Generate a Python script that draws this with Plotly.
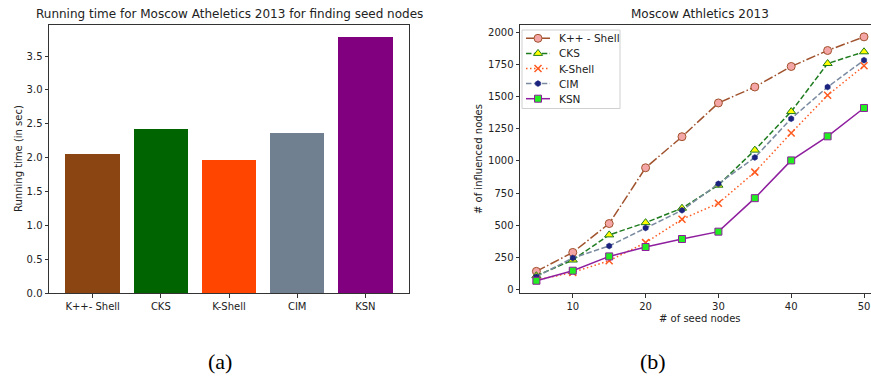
import plotly.graph_objects as go

# Running time per method (seconds)
methods = ["K++- Shell", "CKS", "K-Shell", "CIM", "KSN"]
run_times = [2.05, 2.42, 1.97, 2.37, 3.78]
bar_colors = ["#8B4513", "#006400", "#FF4500", "#708090", "#800080"]

# Influence spread vs. number of seed nodes
seeds = [5, 10, 15, 20, 25, 30, 35, 40, 45, 50]
kpp_shell = [143, 290, 514, 947, 1188, 1450, 1574, 1733, 1857, 1963]
cks = [109, 231, 426, 521, 633, 812, 1084, 1383, 1756, 1847]
k_shell = [75, 135, 226, 366, 547, 672, 913, 1217, 1510, 1738]
cim = [101, 247, 340, 480, 617, 822, 1027, 1328, 1574, 1782]
ksn = [70, 148, 259, 332, 394, 451, 711, 1004, 1191, 1411]

W, H = 871, 381
FONT = "DejaVu Sans"
TXT = "#222222"

fig = go.Figure()

fig.add_trace(go.Bar(
    x=list(range(len(methods))), y=run_times, marker_color=bar_colors,
    marker_line_width=0, width=0.8, showlegend=False,
    xaxis="x", yaxis="y",
))

series = [
    ("K++ - Shell", kpp_shell, dict(color="#A0522D", width=1.5, dash="9.6px,2.4px,1.5px,2.4px"),
     dict(symbol="circle", size=8, color="#F4A6A6", line=dict(color="#A0522D", width=1))),
    ("CKS", cks, dict(color="#1E7B1E", width=1.5, dash="5.5px,2.4px"),
     dict(symbol="triangle-up", size=8, color="#FFFF00", line=dict(color="#1E7B1E", width=1))),
    ("K-Shell", k_shell, dict(color="#FF5A1F", width=1.5, dash="1.5px,2.5px"),
     dict(symbol="x-thin", size=7, color="#FF5A1F", line=dict(color="#FF5A1F", width=1.5))),
    ("CIM", cim, dict(color="#7A8AA0", width=1.5, dash="5.5px,2.4px"),
     dict(symbol="hexagon", size=6, color="#1A237E", line=dict(color="#1A237E", width=0.5))),
    ("KSN", ksn, dict(color="#8E1E9E", width=1.5),
     dict(symbol="square", size=7, color="#22EE22", line=dict(color="#8E1E9E", width=1))),
]
for name, vals, line, marker in series:
    fig.add_trace(go.Scatter(
        x=seeds, y=vals, name=name, mode="lines+markers", showlegend=False,
        line=line, marker=marker, xaxis="x2", yaxis="y2",
    ))

# Compact legend drawn on a pixel-space overlay axis
LEG_X0, LEG_X1, LEG_Y0, LEG_Y1 = 522, 620, 30, 108.5
LEG_ROW0, LEG_STEP = 38.3, 15.1
for i, (name, _, line, marker) in enumerate(series):
    ry = LEG_ROW0 + i * LEG_STEP
    fig.add_trace(go.Scatter(
        x=[526, 550], y=[ry, ry], mode="lines", line=line, showlegend=False,
        hoverinfo="skip", xaxis="x3", yaxis="y3",
    ))
    fig.add_trace(go.Scatter(
        x=[538], y=[ry], mode="markers", marker=marker, showlegend=False,
        hoverinfo="skip", xaxis="x3", yaxis="y3",
    ))
    fig.add_annotation(xref="x3", yref="y3", x=557, y=ry, text=name, showarrow=False,
                       xanchor="left", yanchor="middle",
                       font=dict(family=FONT, size=10.5, color=TXT))
fig.add_shape(type="rect", xref="x3", yref="y3", x0=LEG_X0, x1=LEG_X1, y0=LEG_Y0, y1=LEG_Y1,
              line=dict(color="#D0D0D0", width=1), fillcolor="rgba(255,255,255,0.8)",
              layer="below")

tickfont = dict(family=FONT, size=10, color=TXT)
axis_common = dict(
    showgrid=False, zeroline=False, showline=True, linecolor="#333333",
    linewidth=1, ticks="outside", ticklen=3.5, tickwidth=0.8, tickcolor="#333333",
    tickfont=tickfont, automargin=False,
)

y_dom = [(H - 293) / H, (H - 25) / H]

fig.update_layout(
    width=W, height=H,
    margin=dict(l=0, r=0, t=0, b=0, pad=0),
    paper_bgcolor="white", plot_bgcolor="rgba(0,0,0,0)",
    font=dict(family=FONT, color=TXT),
    showlegend=False,
    xaxis=dict(**axis_common, domain=[49 / W, 409 / W], range=[-0.64, 4.64],
               tickvals=list(range(len(methods))), ticktext=methods, mirror=True),
    yaxis=dict(**axis_common, domain=y_dom, range=[0, 3.96],
               tickvals=[0, 0.5, 1, 1.5, 2, 2.5, 3, 3.5], tickformat=".1f", mirror=True),
    xaxis2=dict(**axis_common, domain=[520 / W, 1.0], range=[2.75, 50.96],
                tickvals=[10, 20, 30, 40, 50], mirror=True, anchor="y2"),
    yaxis2=dict(**axis_common, domain=y_dom, range=[-25, 2055], anchor="x2",
                tickvals=[0, 250, 500, 750, 1000, 1250, 1500, 1750, 2000]),
    xaxis3=dict(domain=[0, 1], range=[0, W], visible=False, anchor="y3", fixedrange=True),
    yaxis3=dict(domain=[0, 1], range=[H, 0], visible=False, anchor="x3", fixedrange=True),
    bargap=0,
)

annotations = [
    dict(text="Running time for Moscow Atheletics 2013 for finding seed nodes",
         x=229, y=14, font=dict(family=FONT, size=12, color=TXT)),
    dict(text="Moscow Athletics 2013", x=700, y=14,
         font=dict(family=FONT, size=12, color=TXT)),
    dict(text="Running time (in sec)", x=18, y=159, textangle=-90,
         font=dict(family=FONT, size=10, color=TXT)),
    dict(text="# of influenced nodes", x=478, y=159, textangle=-90,
         font=dict(family=FONT, size=10, color=TXT)),
    dict(text="# of seed nodes", x=700, y=318,
         font=dict(family=FONT, size=10, color=TXT)),
    dict(text="(a)", x=220, y=361,
         font=dict(family="Liberation Serif", size=22, color="black")),
    dict(text="(b)", x=653, y=361,
         font=dict(family="Liberation Serif", size=22, color="black")),
]
for a in annotations:
    fig.add_annotation(xref="x3", yref="y3", showarrow=False,
                       xanchor="center", yanchor="middle", **a)

fig.write_html("out.html")
